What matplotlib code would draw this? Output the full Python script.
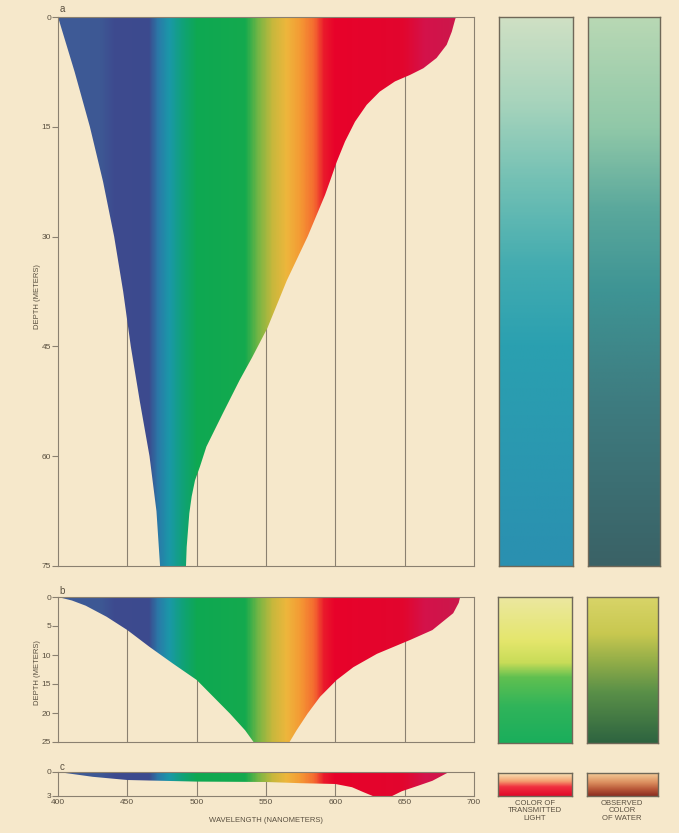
import numpy as np
import matplotlib
matplotlib.use("Agg")
import matplotlib.pyplot as plt
from matplotlib.colors import LinearSegmentedColormap

plt.rcParams['font.family'] = ['Liberation Sans', 'DejaVu Sans']

# ---- data -------------------------------------------------------------
# depth (m) reached by light of each wavelength (nm): panel a (clear ocean)
wl_a = [400, 412, 423, 432.5, 440.5, 447, 452.5, 459, 466, 471, 473.6,
        492.3, 492.8, 494.7, 496.4, 498.8, 502.4, 507, 519, 531, 540, 551,
        565, 580, 592.6, 596, 601, 607, 614.2, 622.6, 632, 643, 654,
        663.5, 673, 680.3, 684, 686.3, 687]
depth_a = [0, 7.5, 15, 22.5, 30, 37.5, 45, 52.5, 60, 67.5, 75,
           75, 72.4, 67.8, 65.5, 63.3, 61.4, 58.7, 54.1, 49.6, 46.5, 42.5,
           36, 30, 24.3, 22.5, 19.8, 17.0, 14.3, 12.0, 10.2, 8.8, 7.9,
           7.0, 5.6, 3.8, 2.0, 0.4, 0]

# panel b (coastal water)
wl_b = [400, 410, 420, 435, 450, 466, 483, 500, 512, 524, 535, 541,
        567, 572, 580, 589, 601, 613, 630, 642, 654, 670, 685, 689, 690]
depth_b = [0, 0.6, 1.5, 3.4, 5.7, 8.6, 11.5, 14.3, 17.2, 20.1, 23, 25,
           25, 23, 20.1, 17.2, 14.3, 12.1, 9.8, 8.6, 7.4, 5.7, 2.8, 1.0, 0]

# panel c (stained water)
wl_c = [400, 425, 450, 500, 550, 575, 600, 612, 620, 627, 641, 648,
        660, 670, 682]
depth_c = [0.0, 0.6, 1.0, 1.2, 1.25, 1.4, 1.5, 1.9, 2.5, 3.0, 3.0, 2.4,
           1.7, 1.1, 0.0]

depth_ticks_a = [0, 15, 30, 45, 60, 75]
depth_ticks_b = [0, 5, 10, 15, 20, 25]
depth_ticks_c = [0, 3]
wl_ticks = [400, 450, 500, 550, 600, 650, 700]
grid_wl = [450, 500, 550, 600, 650]

# spectrum colours by wavelength
spec_wl = [400, 430, 440, 465, 472, 480, 490, 500, 535, 545, 555, 565,
           575, 585, 592, 600, 650, 665, 700]
spec_col = ['#3f5c98', '#3d5894', '#3e4b8f', '#3c4a8e', '#2a7aa8',
            '#1a98a8', '#10a276', '#0ea852', '#14aa4e', '#7ab644',
            '#c8b83c', '#eeb63c', '#f49a34', '#f46a30', '#ea1a2c',
            '#e8022a', '#e2062e', '#d4124a', '#c81a4c']

# colour columns: (position from top, colour)
bar_a_trans = [(0, '#cfe0c4'), (0.15, '#a8d4bc'), (0.3, '#72c0b4'),
               (0.45, '#44acb0'), (0.6, '#2aa0b0'), (1, '#2a90b0')]
bar_a_obs = [(0, '#b8d8b4'), (0.2, '#90c8a8'), (0.35, '#5aa89c'),
             (0.5, '#3e9494'), (0.7, '#3e7c80'), (1, '#3a6266')]
bar_b_trans = [(0, '#ece8a0'), (0.3, '#e4e66c'), (0.45, '#c8dc58'),
               (0.55, '#60c050'), (0.75, '#30b45a'), (1, '#1aae5c')]
bar_b_obs = [(0, '#d8d468'), (0.25, '#c8c850'), (0.45, '#90ac48'),
             (0.65, '#5a9048'), (1, '#2e6440')]
bar_c_trans = [(0, '#f8e4b8'), (0.35, '#f4a070'), (0.6, '#f03040'),
               (1, '#e00828')]
bar_c_obs = [(0, '#f4cc98'), (0.4, '#dc9060'), (0.7, '#b85838'),
             (1, '#8a2c20')]

# ---- styling ------------------------------------------------------------
BG = '#f6e8cb'
FRAME = '#8a8070'
TXT = '#5a5040'
W, H = 679, 833

fig = plt.figure(figsize=(W / 100, H / 100), dpi=100, facecolor=BG)


def add_ax(x0, y0, x1, y1):
    return fig.add_axes([x0 / W, 1 - y1 / H, (x1 - x0) / W, (y1 - y0) / H])


spec_cmap = LinearSegmentedColormap.from_list(
    'spec', [((w - 400) / 300, c) for w, c in zip(spec_wl, spec_col)])


def spectrum_panel(ax, wl, depth, dmax, yticks, letter, xlabels=False):
    ax.set_facecolor(BG)
    for g in grid_wl:
        ax.axvline(g, color=FRAME, lw=0.8, zorder=1)
    grad = np.linspace(0, 1, 600)[None, :]
    im = ax.imshow(grad, cmap=spec_cmap, extent=[400, 700, dmax, 0],
                   aspect='auto', interpolation='bilinear', zorder=2)
    shape = ax.fill(wl, depth, facecolor='none', edgecolor='none')[0]
    im.set_clip_path(shape)
    ax.set_xlim(400, 700)
    ax.set_ylim(dmax, 0)
    ax.set_yticks(yticks)
    ax.set_xticks(wl_ticks)
    ax.tick_params(axis='y', direction='out', length=4, width=0.8,
                   color=FRAME, labelsize=6, labelcolor=TXT, pad=1)
    ax.tick_params(axis='x', length=0, labelsize=6, labelcolor=TXT, pad=2,
                   labelbottom=xlabels)
    for s in ax.spines.values():
        s.set_color(FRAME)
        s.set_linewidth(0.8)
        s.set_zorder(3)
    ax.text(0.004, 1.005, letter, transform=ax.transAxes, fontsize=7,
            color=TXT, ha='left', va='bottom')


def colour_bar(ax, stops):
    cmap = LinearSegmentedColormap.from_list('bar', stops)
    ax.imshow(np.linspace(0, 1, 300)[:, None], cmap=cmap, aspect='auto',
              interpolation='bilinear', extent=[0, 1, 1, 0])
    ax.set_xticks([])
    ax.set_yticks([])
    for s in ax.spines.values():
        s.set_color('#6f6858')
        s.set_linewidth(1.0)


ax_a = add_ax(58, 17, 474, 566)
spectrum_panel(ax_a, wl_a, depth_a, 75, depth_ticks_a, 'a')
ax_a.set_ylabel('DEPTH (METERS)', fontsize=5.5, color=TXT)
ax_a.yaxis.set_label_coords(-0.041, 0.49)

ax_b = add_ax(58, 597, 474, 742)
spectrum_panel(ax_b, wl_b, depth_b, 25, depth_ticks_b, 'b')
ax_b.set_ylabel('DEPTH (METERS)', fontsize=5.5, color=TXT)
ax_b.yaxis.set_label_coords(-0.041, 0.48)

ax_c = add_ax(58, 772, 474, 796)
spectrum_panel(ax_c, wl_c, depth_c, 3, depth_ticks_c, 'c', xlabels=True)
ax_c.set_xlabel('WAVELENGTH (NANOMETERS)', fontsize=5.5, color=TXT,
                labelpad=8)

colour_bar(add_ax(499, 17, 573, 566), bar_a_trans)
colour_bar(add_ax(588, 17, 660, 566), bar_a_obs)
colour_bar(add_ax(498, 597, 572, 743), bar_b_trans)
colour_bar(add_ax(587, 597, 658, 743), bar_b_obs)
colour_bar(add_ax(498, 773, 572, 796), bar_c_trans)
colour_bar(add_ax(587, 773, 658, 796), bar_c_obs)

fig.text(535 / W, 1 - 800 / H, 'COLOR OF\nTRANSMITTED\nLIGHT', ha='center',
         va='top', fontsize=5.5, color=TXT, linespacing=1.05)
fig.text(622 / W, 1 - 800 / H, 'OBSERVED\nCOLOR\nOF WATER', ha='center',
         va='top', fontsize=5.5, color=TXT, linespacing=1.05)

fig.savefig('out.png', dpi=100, facecolor=BG)
